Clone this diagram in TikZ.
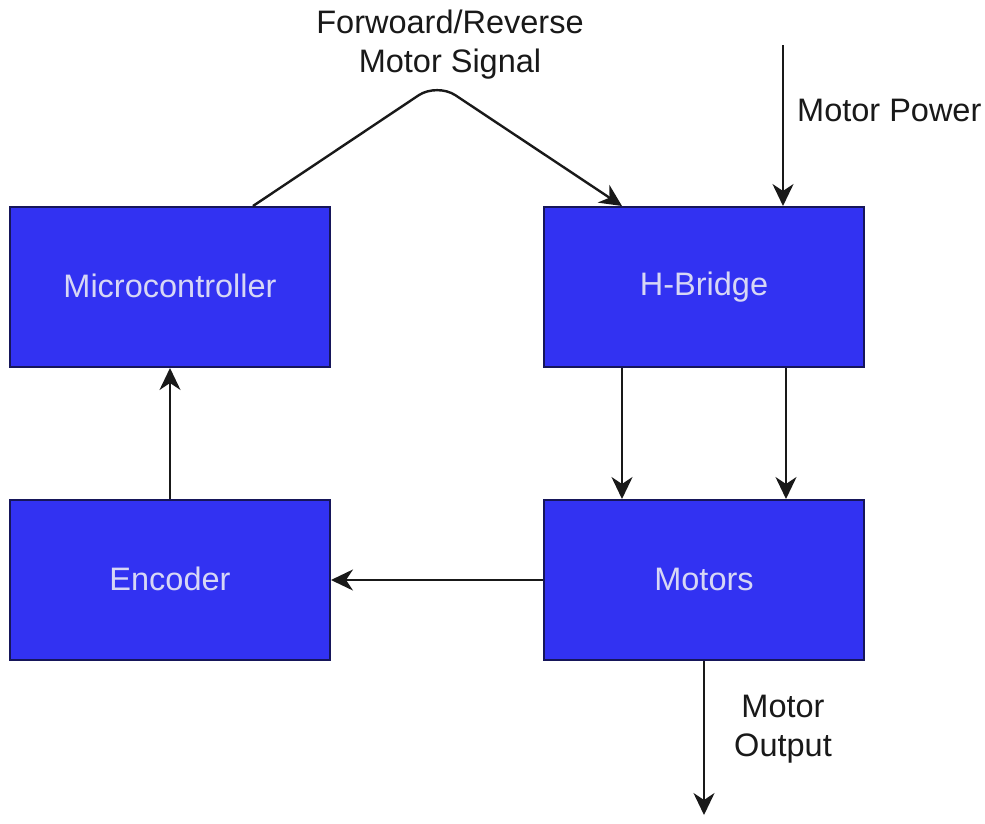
\documentclass[tikz,border=0pt]{standalone}
\usepackage{fontspec}
\setmainfont{Liberation Sans}
\usetikzlibrary{arrows.meta,calc}
\definecolor{boxfill}{RGB}{50,50,242}
\definecolor{boxline}{RGB}{22,22,90}
\definecolor{boxtext}{RGB}{215,215,245}
\definecolor{linec}{RGB}{25,25,25}
\tikzset{
  block/.style={draw=boxline, line width=2pt, fill=boxfill, minimum width=320pt, minimum height=160pt, inner sep=0pt, text=boxtext, font=\fontsize{32.5}{38}\selectfont},
  lbl/.style={inner sep=0pt, text=linec, align=center, font=\fontsize{32.5}{39}\selectfont},
  arr/.style={draw=linec, line width=2.4pt, -{Stealth[length=22pt,width=21pt,inset=7pt]}}
}
\begin{document}
\begin{tikzpicture}[x=1pt,y=-1pt]
\useasboundingbox (0,0) rectangle (985,823);
\fill[white] (0,0) rectangle (985,823);
\node[block] (mc) at (170,287) {\raisebox{3pt}{Microcontroller}};
\node[block] (hb) at (704,287) {\raisebox{3pt}{H-Bridge}};
\node[block] (enc) at (170,580) {\raisebox{2pt}{Encoder}};
\node[block] (mot) at (704,580) {\raisebox{2pt}{Motors}};
\coordinate (peak) at (437,83);
\coordinate (mp) at (783,45);
\coordinate (mo) at (704,815);
\node[lbl] (frl) at (450,45) {Forwoard/Reverse\\Motor Signal};
\node[lbl, anchor=west] (mpl) at (797,110) {Motor Power};
\node[lbl] (mol) at (783,729) {Motor\\Output};
\draw[arr, rounded corners=22pt] ([xshift=83pt]mc.north) -- (peak) -- ([xshift=-82pt]hb.north);
\draw[arr] (mp) -- (mp |- hb.north);
\draw[arr] ([xshift=79pt]hb.south west) -- ([xshift=79pt]mot.north west);
\draw[arr] ([xshift=-79pt]hb.south east) -- ([xshift=-79pt]mot.north east);
\draw[arr] (mot.west) -- (enc.east);
\draw[arr] (enc.north) -- (mc.south);
\draw[arr] (mot.south) -- (mo);
\end{tikzpicture}
\end{document}
